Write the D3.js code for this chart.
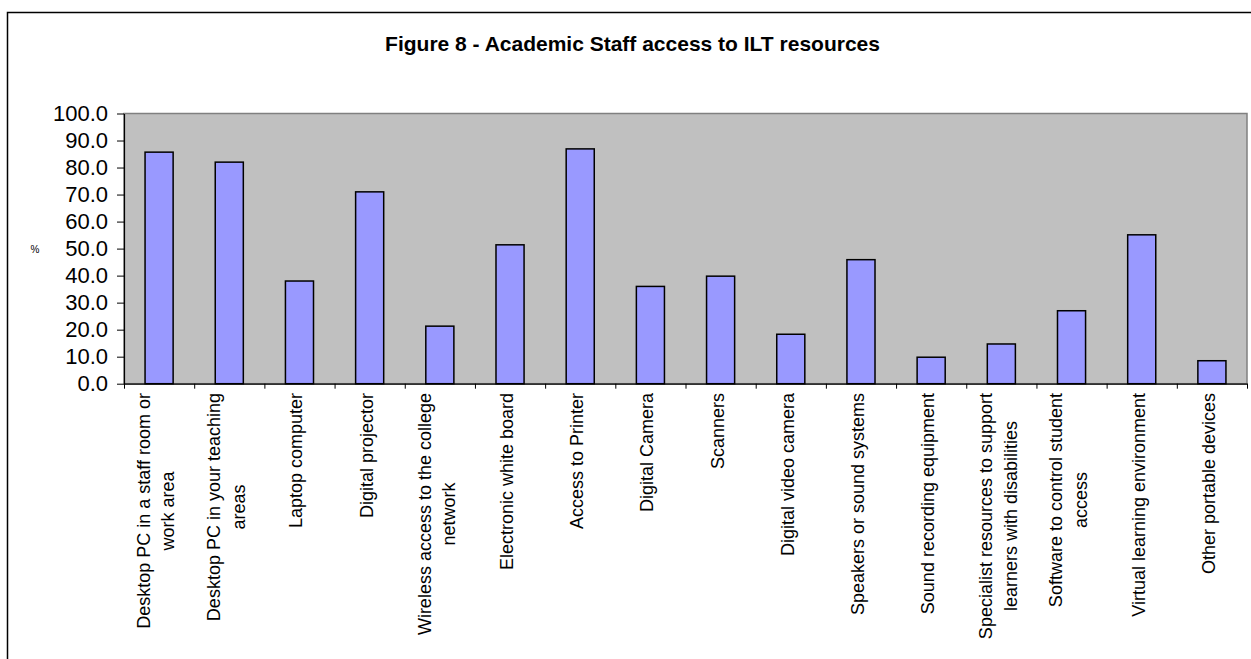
<!DOCTYPE html>
<html>
<head>
<meta charset="utf-8">
<script src="https://cdn.jsdelivr.net/npm/d3@7"></script>
<style>
  html, body { margin: 0; padding: 0; background: #ffffff; }
  svg { display: block; font-family: Arial, "Liberation Sans", sans-serif; }
</style>
</head>
<body>
<svg id="chart" width="1251" height="659"></svg>
<script>
// Resource names, wrapped the way they appear under the axis
const categories = [
  "Desktop PC in a staff room or\nwork area",
  "Desktop PC in your teaching\nareas",
  "Laptop computer",
  "Digital projector",
  "Wireless access to the college\nnetwork",
  "Electronic white board",
  "Access to Printer",
  "Digital Camera",
  "Scanners",
  "Digital video camera",
  "Speakers or sound systems",
  "Sound recording equipment",
  "Specialist resources to support\nlearners with disabilities",
  "Software to control student\naccess",
  "Virtual learning environment",
  "Other portable devices"
];

// Percentage of academic staff with access to each resource
const accessPct = [85.7, 82.0, 38.0, 71.0, 21.3, 51.4, 86.9, 36.0, 39.8, 18.3, 45.9, 9.8, 14.7, 27.0, 55.1, 8.5];

const yTicks = [0, 10, 20, 30, 40, 50, 60, 70, 80, 90, 100];

const titleText = "Figure 8 - Academic Staff access to ILT resources";
const yAxisLabel = "%";

const svg = d3.select("#chart");

// Plot-area frame
const plot = { left: 124, right: 1247, top: 113.5, bottom: 383.7 };

// Outer chart border (runs past the right and bottom edges)
svg.append("rect")
  .attr("x", 7.5).attr("y", 12.5)
  .attr("width", 1270).attr("height", 700)
  .attr("fill", "#ffffff")
  .attr("stroke", "#000000")
  .attr("stroke-width", 1.5);

// Title
svg.append("text")
  .attr("x", 632.5).attr("y", 51)
  .attr("text-anchor", "middle")
  .attr("font-weight", "bold")
  .attr("font-size", 21)
  .attr("fill", "#000")
  .text(titleText);

const x = d3.scaleBand()
  .domain(categories)
  .range([plot.left, plot.right])
  .paddingInner(0.6)
  .paddingOuter(0.3);

// Category boundaries for the tick marks
const xEdges = d3.scaleLinear()
  .domain([0, categories.length])
  .range([plot.left, plot.right]);

const y = d3.scaleLinear()
  .domain([0, 100])
  .range([plot.bottom, plot.top]);

// Grey plot background
svg.append("rect")
  .attr("x", plot.left).attr("y", plot.top)
  .attr("width", plot.right - plot.left)
  .attr("height", plot.bottom - plot.top)
  .attr("fill", "#c0c0c0")
  .attr("stroke", "#808080")
  .attr("stroke-width", 1.5);

// Bars
svg.append("g")
  .selectAll("rect")
  .data(accessPct)
  .join("rect")
  .attr("x", (d, i) => x(categories[i]))
  .attr("y", d => y(d))
  .attr("width", x.bandwidth())
  .attr("height", d => y(0) - y(d))
  .attr("fill", "#9999ff")
  .attr("stroke", "#000000")
  .attr("stroke-width", 1.5);

// Y axis
const yAxis = svg.append("g")
  .attr("transform", `translate(${plot.left},0)`)
  .call(d3.axisLeft(y)
    .tickValues(yTicks)
    .tickFormat(d3.format(".1f"))
    .tickSize(7)
    .tickSizeOuter(0)
    .tickPadding(9));
yAxis.select(".domain").attr("stroke", "#000").attr("stroke-width", 1.2);
yAxis.selectAll(".tick line").attr("stroke", "#000");
yAxis.selectAll(".tick text")
  .attr("font-size", 22)
  .attr("font-family", "Arial, 'Liberation Sans', sans-serif")
  .attr("fill", "#000");

// X axis line and boundary ticks
const xAxis = svg.append("g")
  .attr("transform", `translate(0,${plot.bottom})`)
  .call(d3.axisBottom(xEdges)
    .tickValues(d3.range(0, categories.length + 1))
    .tickFormat("")
    .tickSize(5)
    .tickSizeOuter(0));
xAxis.select(".domain").attr("stroke", "#000").attr("stroke-width", 1.2);
xAxis.selectAll(".tick line").attr("stroke", "#000");

// Rotated category labels, reading upward, centred line by line
const labelTop = 393;
const lineGap = 24.5;
const labels = svg.append("g")
  .attr("font-size", 18)
  .attr("fill", "#000");

categories.forEach(name => {
  const lines = name.split("\n");
  const cx = x(name) + x.bandwidth() / 2;
  const g = labels.append("g")
    .attr("transform", `translate(${cx},${labelTop}) rotate(-90)`);
  const texts = lines.map((ln, i) =>
    g.append("text")
      .attr("text-anchor", "middle")
      .attr("y", 3 + (i - (lines.length - 1) / 2) * lineGap)
      .text(ln));
  const maxLen = d3.max(texts, t => t.node().getComputedTextLength());
  texts.forEach(t => t.attr("x", -maxLen / 2));
});

// Y axis title
svg.append("text")
  .attr("x", 35).attr("y", 253)
  .attr("text-anchor", "middle")
  .attr("font-size", 10)
  .attr("fill", "#000")
  .text(yAxisLabel);
</script>
</body>
</html>
